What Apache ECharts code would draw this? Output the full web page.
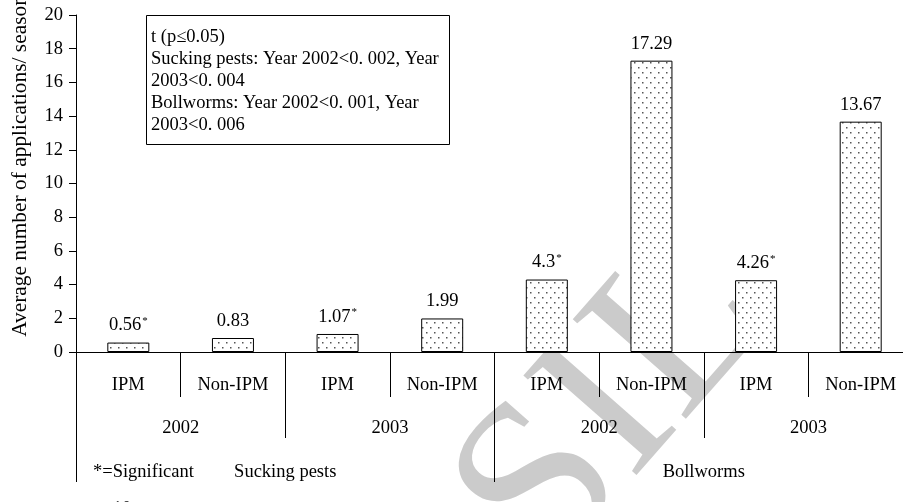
<!DOCTYPE html>
<html><head><meta charset="utf-8">
<script src="https://cdn.jsdelivr.net/npm/echarts@6/dist/echarts.min.js"></script>
<style>html,body{margin:0;padding:0;background:#fff;overflow:hidden;width:903px;height:502px}#c{width:913px;height:502px}</style>
</head><body><div id="c"></div>
<script>
// ---- data ----
const treatments = ['IPM','Non-IPM','IPM','Non-IPM','IPM','Non-IPM','IPM','Non-IPM'];
const years = ['2002','2003','2002','2003'];
const pests = ['Sucking pests','Bollworms'];
const values = [0.56, 0.83, 1.07, 1.99, 4.3, 17.29, 4.26, 13.67];
const significant = [true, false, true, false, true, false, true, false];
const yMin = 0, yMax = 20, yInterval = 2;
const noteLines = ['t (p\u22640.05)', 'Sucking pests: Year 2002<0. 002, Year', '2003<0. 004', 'Bollworms: Year 2002<0. 001, Year', '2003<0. 006'];
const yName = 'Average number of applications/ season';
const footnotes = ['*=Significant', 'n=10'];

const F = '"Liberation Serif", "Times New Roman", serif';
const FS = 18.5;

// dotted fill pattern
const pc = document.createElement('canvas');
pc.width = 8; pc.height = 10;
const g = pc.getContext('2d');
g.fillStyle = '#fff'; g.fillRect(0, 0, 8, 10);
g.fillStyle = '#555';
g.fillRect(2, 2, 1.5, 1.5);
g.fillRect(6, 7, 1.5, 1.5);

const chart = echarts.init(document.getElementById('c'), null, {renderer: 'canvas'});

const txt = {color: '#000', fontFamily: F, fontSize: FS};

const graphics = [
  {type: 'text', z: -5, x: 615, y: 408, rotation: 0.85,
   style: {text: 'SIL', font: '230px "Liberation Serif", serif', fill: '#cbcbcb', align: 'center', verticalAlign: 'middle'}},
  {type: 'rect', z: 10, shape: {x: 146.5, y: 15.5, width: 303, height: 129},
   style: {fill: '#fff', stroke: '#000', lineWidth: 1}},
  {type: 'text', z: 11, x: 20, y: 166, rotation: Math.PI / 2,
   style: {text: yName, fill: '#000', font: '21.4px ' + F, align: 'center', verticalAlign: 'middle'}}
];
noteLines.forEach((t, i) => graphics.push({
  type: 'text', z: 11, x: 151, y: 37 + i * 22,
  style: {text: t, fill: '#000', font: FS + 'px ' + F, align: 'left', verticalAlign: 'middle'}
}));
footnotes.forEach((t, i) => graphics.push({
  type: 'text', z: 11, x: 93, y: 472 + i * 37,
  style: {text: t, fill: '#000', font: FS + 'px ' + F, align: 'left', verticalAlign: 'middle'}
}));

const mkX = (data, tickLen, margin, lineOpacity) => ({
  type: 'category', data: data, position: 'bottom', offset: 0,
  axisLine: {show: true, onZero: false, lineStyle: {color: '#000', width: 1, opacity: lineOpacity}},
  axisTick: {show: true, length: tickLen, lineStyle: {color: '#000', width: 1}},
  axisLabel: Object.assign({margin: margin, interval: 0}, txt),
  splitLine: {show: false}
});

chart.setOption({
  animation: false,
  backgroundColor: '#fff',
  grid: {left: 76, right: 0, top: 15, bottom: 150, containLabel: false},
  xAxis: [
    mkX(treatments, 45, 24, 1),
    mkX(years, 86, 67, 0),
    mkX(pests, 130, 111, 0)
  ],
  yAxis: {
    type: 'value', min: yMin, max: yMax, interval: yInterval,
    axisLine: {show: true, lineStyle: {color: '#000', width: 1}},
    axisTick: {show: true, length: 7, lineStyle: {color: '#000'}},
    splitLine: {show: false},
    axisLabel: Object.assign({margin: 13}, txt)
  },
  series: [{
    type: 'bar', xAxisIndex: 0, data: values, barWidth: 42,
    itemStyle: {color: {image: pc, repeat: 'repeat'}, borderColor: '#000', borderWidth: 1},
    label: {
      show: true, position: 'top', distance: 7,
      formatter: p => significant[p.dataIndex] ? '{v|' + p.value + '}{s|*}' : '{v|' + p.value + '}',
      rich: {
        v: {fontFamily: F, fontSize: FS, color: '#000', lineHeight: 20},
        s: {fontFamily: F, fontSize: 11, color: '#000', verticalAlign: 'top', lineHeight: 12, padding: [0, 0, 0, 1]}
      }
    }
  }],
  graphic: graphics
});
</script></body></html>
